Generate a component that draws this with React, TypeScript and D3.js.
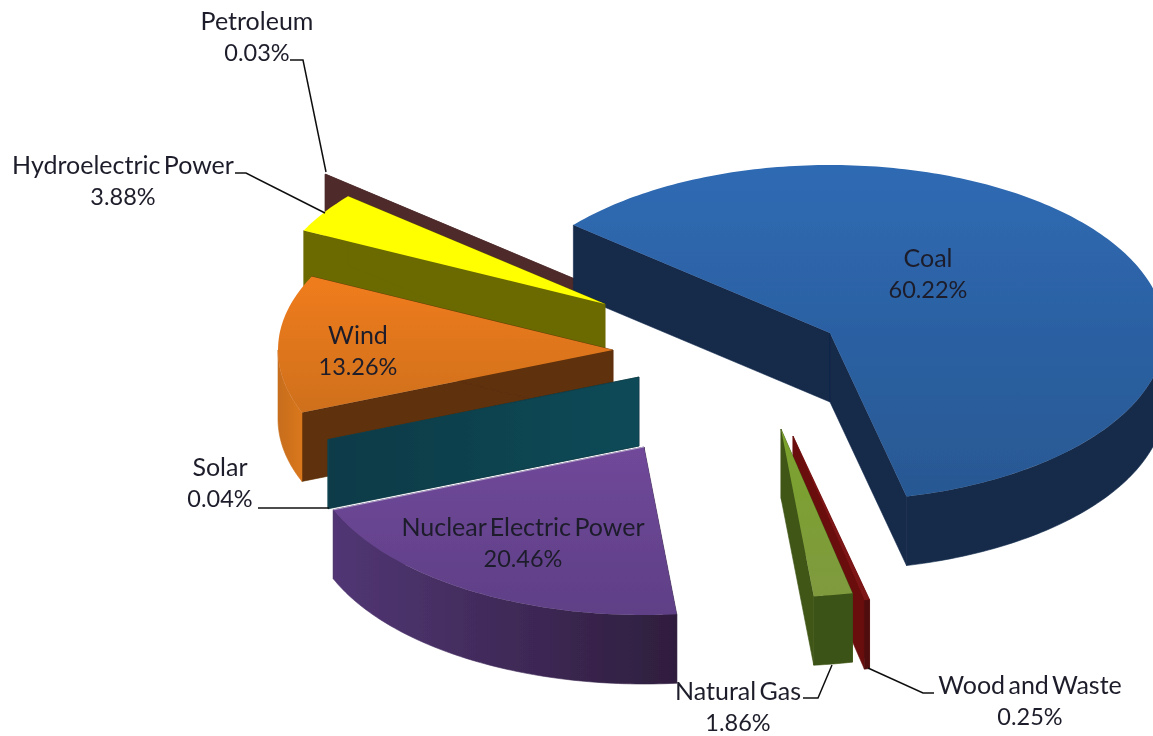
import React from "react";
import * as d3 from "d3";

const categories = ["Coal", "Wood and Waste", "Natural Gas", "Nuclear Electric Power", "Solar", "Wind", "Hydroelectric Power", "Petroleum"];
const shares = [60.22, 0.25, 1.86, 20.46, 0.04, 13.26, 3.88, 0.03];

// layout of the exploded slices
const W = 1153, H = 736;
const RX = 335, RY = 168, DEPTH = 69;
const apex: Record<string, [number, number]> = {
  Coal: [830, 333],
  "Wood and Waste": [793, 436],
  "Natural Gas": [781, 429],
  "Nuclear Electric Power": [644, 447],
  Solar: [639, 377],
  Wind: [613, 350],
  "Hydroelectric Power": [605, 304],
  Petroleum: [582, 282],
};
const drawOrder = ["Petroleum", "Coal", "Hydroelectric Power", "Wind", "Solar", "Nuclear Electric Power", "Wood and Waste", "Natural Gas"];

const paint: Record<string, { top: [string, string]; wall: [string, string]; face: string; face2?: string }> = {
  Coal: { top: ["#2f6ab3", "#285893"], wall: ["#13294a", "#13294a"], face: "#13294a" },
  "Wood and Waste": { top: ["#7d1212", "#7d1212"], wall: ["#4f0a0a", "#4f0a0a"], face: "#6a0f0f" },
  "Natural Gas": { top: ["#7ba32c", "#7f9a3e"], wall: ["#3a5212", "#3a5212"], face: "#3f5616" },
  "Nuclear Electric Power": { top: ["#70489a", "#5f4086"], wall: ["#513674", "#2f1e3e"], face: "#2f1e3e" },
  Solar: { top: ["#0f4653", "#0f4653"], wall: ["#0f4653", "#0f4653"], face: "#103a47", face2: "#0f4a57" },
  Wind: { top: ["#f07c1e", "#cf701d"], wall: ["#c76d1a", "#d9771d"], face: "#5e3008" },
  "Hydroelectric Power": { top: ["#ffff00", "#ffff00"], wall: ["#6b6a00", "#6b6a00"], face: "#6b6a00" },
  Petroleum: { top: ["#4f2b2b", "#4f2b2b"], wall: ["#4f2b2b", "#4f2b2b"], face: "#4f2b2b" },
};

const labelRows: { lines: [string, string]; x: number; y: number }[] = [
  { lines: ["Petroleum", "0.03%"], x: 257, y: 30 },
  { lines: ["Hydroelectric Power", "3.88%"], x: 123, y: 174 },
  { lines: ["Coal", "60.22%"], x: 928, y: 267 },
  { lines: ["Wind", "13.26%"], x: 358, y: 344 },
  { lines: ["Solar", "0.04%"], x: 220, y: 476 },
  { lines: ["Nuclear Electric Power", "20.46%"], x: 523, y: 536 },
  { lines: ["Natural Gas", "1.86%"], x: 738, y: 700 },
  { lines: ["Wood and Waste", "0.25%"], x: 1030, y: 694 },
];

const leaders: [number, number][][] = [
  [[290, 60], [303, 60], [326, 172]],
  [[235, 173], [246, 173], [325, 213]],
  [[258, 508], [329, 508]],
  [[803, 698], [818, 698], [832, 665]],
  [[868, 668], [923, 693], [934, 693]],
];

const rad = Math.PI / 180;
const arcs = d3.pie<number>().sort(null).startAngle(-50 * rad).endAngle(310 * rad)(shares);
const lineGen = d3.line<[number, number]>();

function rim(cx: number, cy: number, a0: number, a1: number, dy = 0): [number, number][] {
  const n = Math.max(2, Math.ceil(Math.abs(a1 - a0) / (1 * rad)) + 1);
  return d3.range(n).map((i) => {
    const a = a0 + ((a1 - a0) * i) / (n - 1);
    return [cx + RX * Math.sin(a), cy - RY * Math.cos(a) + dy] as [number, number];
  });
}

function key(s: string) {
  return s.replace(/\s+/g, "");
}

export default function App() {
  const slices = drawOrder.map((name) => {
    const arc = arcs[categories.indexOf(name)];
    const [cx, cy] = apex[name];
    const s = arc.startAngle, e = arc.endAngle;
    const topPts = [[cx, cy] as [number, number], ...rim(cx, cy, s, e)];
    const faceOf = (a: number): [number, number][] => {
      const p = rim(cx, cy, a, a + 0.0001)[0];
      return [[cx, cy], p, [p[0], p[1] + DEPTH], [cx, cy + DEPTH]];
    };
    const w0 = Math.max(s, 90 * rad), w1 = Math.min(e, 270 * rad);
    const wallPts = w1 > w0 ? [...rim(cx, cy, w0, w1), ...rim(cx, cy, w0, w1, DEPTH).reverse()] : null;
    return { name, top: topPts, faceS: faceOf(s), faceE: faceOf(e), wall: wallPts };
  });

  const nuclearArc = arcs[categories.indexOf("Nuclear Electric Power")];
  const nc = apex["Nuclear Electric Power"];
  const nuclearEdge = [nc as [number, number], rim(nc[0], nc[1], nuclearArc.endAngle, nuclearArc.endAngle + 0.0001)[0]];

  return (
    <svg
      width={W}
      height={H}
      viewBox={`0 0 ${W} ${H}`}
      style={{ position: "absolute", left: 0, top: 0, background: "#fff", display: "block" }}
      fontFamily="Lato, 'Open Sans', sans-serif"
    >
      <defs>
        <filter id="soft" x="-5%" y="-5%" width="110%" height="110%">
          <feGaussianBlur stdDeviation="0.6" />
        </filter>
        {categories.map((c) => (
          <React.Fragment key={c}>
            <linearGradient id={`top-${key(c)}`} x1="0" y1="0" x2="0" y2="1">
              <stop offset="0" stopColor={paint[c].top[0]} />
              <stop offset="1" stopColor={paint[c].top[1]} />
            </linearGradient>
            <linearGradient id={`wall-${key(c)}`} x1="0" y1="0" x2="1" y2="0">
              <stop offset="0" stopColor={paint[c].wall[0]} />
              <stop offset="1" stopColor={paint[c].wall[1]} />
            </linearGradient>
            <linearGradient id={`face-${key(c)}`} x1="0" y1="0" x2="1" y2="0">
              <stop offset="0" stopColor={paint[c].face} />
              <stop offset="1" stopColor={paint[c].face2 ?? paint[c].face} />
            </linearGradient>
          </React.Fragment>
        ))}
      </defs>
      <g filter="url(#soft)">
        {slices.map((sl) => (
          <g key={sl.name}>
            <path d={lineGen(sl.faceS) + "Z"} fill={`url(#face-${key(sl.name)})`} stroke={paint[sl.name].face} strokeWidth={0.6} />
            <path d={lineGen(sl.faceE) + "Z"} fill={`url(#face-${key(sl.name)})`} stroke={paint[sl.name].face} strokeWidth={0.6} />
            {sl.wall && (
              <path
                d={lineGen(sl.wall) + "Z"}
                fill={`url(#wall-${key(sl.name)})`}
                stroke={`url(#wall-${key(sl.name)})`}
                strokeWidth={0.6}
              />
            )}
            <path d={lineGen(sl.top) + "Z"} fill={`url(#top-${key(sl.name)})`} />
          </g>
        ))}
        <path d={lineGen(nuclearEdge) ?? ""} fill="none" stroke="#bcaed2" strokeWidth={0.9} />
        {leaders.map((l, i) => (
          <path key={i} d={lineGen(l) ?? ""} fill="none" stroke="#111" strokeWidth={1.5} />
        ))}
        {labelRows.map((r) => (
          <text key={r.lines[0]} textAnchor="middle" fontSize={25} fill="#1d1d2a" wordSpacing={-3}>
            <tspan x={r.x} y={r.y}>{r.lines[0]}</tspan>
            <tspan x={r.x} y={r.y + 31} fontSize={23.5}>{r.lines[1]}</tspan>
          </text>
        ))}
      </g>
    </svg>
  );
}
